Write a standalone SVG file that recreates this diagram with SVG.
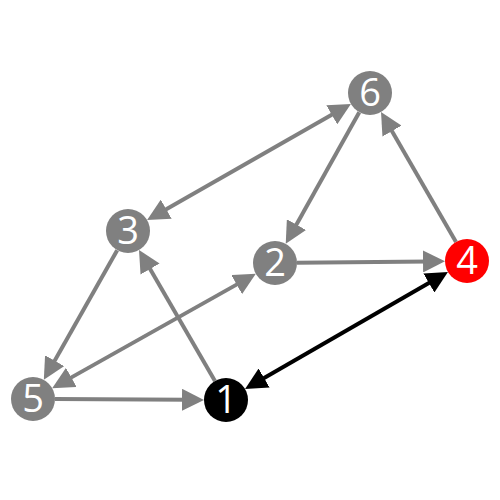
<svg xmlns="http://www.w3.org/2000/svg" width="500" height="500" viewBox="0 0 500 500">
<style>
.e{stroke:#808080;stroke-width:4;fill:none}
.k{stroke:#000;stroke-width:4;fill:none}
.n text{fill:#fff;font-family:"Open Sans","DejaVu Sans",sans-serif;font-size:38px;text-anchor:middle}
</style>
<defs>
<marker id="ag" markerUnits="userSpaceOnUse" markerWidth="22" markerHeight="22" refX="6" refY="11" orient="auto-start-reverse" viewBox="0 0 22 22"><path d="M0,0 L22,11 L0,22 z" fill="#808080"/></marker>
<marker id="ab" markerUnits="userSpaceOnUse" markerWidth="22" markerHeight="22" refX="6" refY="11" orient="auto-start-reverse" viewBox="0 0 22 22"><path d="M0,0 L22,11 L0,22 z" fill="#000"/></marker>
</defs>
<rect width="500" height="500" fill="#fff"/>
<g id="edges">
<line class="e" x1="336.99" y1="111.83" x2="161.01" y2="212.17" marker-start="url(#ag)" marker-end="url(#ag)"/>
<line class="e" x1="359.27" y1="112.21" x2="293.54" y2="229.83" marker-end="url(#ag)"/>
<line class="e" x1="456" y1="241.95" x2="389" y2="125.91" marker-end="url(#ag)"/>
<line class="e" x1="297" y1="262.77" x2="429" y2="261.4" marker-end="url(#ag)"/>
<line class="e" x1="117.17" y1="250.15" x2="51.7" y2="365.92" marker-end="url(#ag)"/>
<line class="e" x1="214.96" y1="380.97" x2="147.06" y2="263.87" marker-end="url(#ag)"/>
<line class="e" x1="66.13" y1="380.38" x2="241.87" y2="281.62" marker-start="url(#ag)" marker-end="url(#ag)"/>
<line class="e" x1="55" y1="399.1" x2="188" y2="399.8" marker-end="url(#ag)"/>
<line class="k" x1="258.92" y1="381.02" x2="434.08" y2="279.98" marker-start="url(#ab)" marker-end="url(#ab)"/>
</g>
<g id="n6" class="n"><circle cx="370" cy="93" r="22" fill="#808080"/><text x="370" y="106">6</text></g>
<g id="n3" class="n"><circle cx="128" cy="231" r="22" fill="#808080"/><text x="128" y="244">3</text></g>
<g id="n2" class="n"><circle cx="275" cy="263" r="22" fill="#808080"/><text x="275" y="276">2</text></g>
<g id="n4" class="n"><circle cx="467" cy="261" r="22" fill="#ff0000"/><text x="467" y="274">4</text></g>
<g id="n5" class="n"><circle cx="33" cy="399" r="22" fill="#808080"/><text x="33" y="412">5</text></g>
<g id="n1" class="n"><circle cx="226" cy="400" r="22" fill="#000"/><text x="226" y="413">1</text></g>
</svg>
